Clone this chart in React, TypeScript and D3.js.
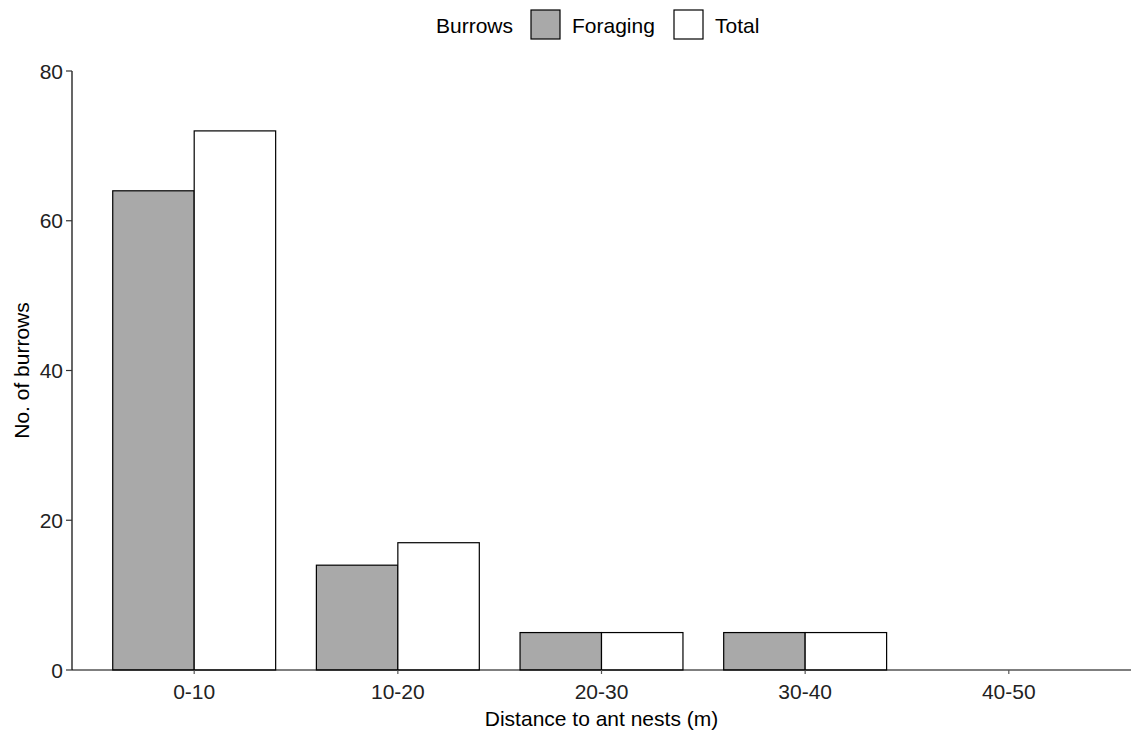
import React from 'react';
import { scaleBand, scaleLinear, scalePoint } from 'd3';

const categories = ['0-10', '10-20', '20-30', '30-40', '40-50'];
const seriesNames = ['Foraging', 'Total'];
const foraging = [64, 14, 5, 5, 0];
const total = [72, 17, 5, 5, 0];
const yTicks = [0, 20, 40, 60, 80];

const W = 1134;
const H = 733;
const margin = { left: 72, right: 3, top: 70, bottom: 63 };
const fills = { Foraging: '#A9A9A9', Total: '#FFFFFF' };
const font = '"Liberation Sans", Arial, sans-serif';

const App = () => {
  const x = scalePoint<string>()
    .domain(categories)
    .range([margin.left, W - margin.right])
    .padding(0.6);
  const step = x.step();
  const inner = scaleBand<string>()
    .domain(seriesNames)
    .range([-step * 0.4, step * 0.4]);
  const y = scaleLinear().domain([0, 80]).range([H - margin.bottom, margin.top + 1]);

  const series = [
    { name: 'Foraging', values: foraging },
    { name: 'Total', values: total },
  ];

  return (
    <svg width={W} height={H} style={styles.chart}>
      {series.map((s) =>
        categories.map((c, i) => (
          <rect
            key={s.name + c}
            x={x(c)! + inner(s.name)!}
            y={y(s.values[i])}
            width={inner.bandwidth()}
            height={y(0) - y(s.values[i])}
            fill={fills[s.name]}
            stroke='#000'
            strokeWidth={1.2}
          />
        ))
      )}

      {/* y axis */}
      <line x1={margin.left} x2={margin.left} y1={y(80)} y2={y(0)} stroke='#000' strokeWidth={1.2} />
      {yTicks.map((t) => (
        <g key={t}>
          <line x1={margin.left - 6} x2={margin.left} y1={y(t)} y2={y(t)} stroke='#333' strokeWidth={1.2} />
          <text x={margin.left - 9} y={y(t)} dy='0.36em' textAnchor='end' fontSize={21} fill='#222'>
            {t}
          </text>
        </g>
      ))}

      {/* x axis */}
      <line x1={margin.left} x2={W - margin.right} y1={y(0)} y2={y(0)} stroke='#000' strokeWidth={1.2} />
      {categories.map((c) => (
        <g key={c}>
          <line x1={x(c)} x2={x(c)} y1={y(0)} y2={y(0) + 4} stroke='#555' strokeWidth={1.2} />
          <text x={x(c)} y={y(0) + 29} textAnchor='middle' fontSize={21} fill='#222'>
            {c}
          </text>
        </g>
      ))}

      <text x={(margin.left + W - margin.right) / 2} y={726} textAnchor='middle' fontSize={21} fill='#000'>
        Distance to ant nests (m)
      </text>
      <text transform={`translate(29, ${(y(0) + y(80)) / 2}) rotate(-90)`} textAnchor='middle' fontSize={21} fill='#000'>
        No. of burrows
      </text>

      {/* legend */}
      <g>
        <text x={436} y={33} fontSize={21} fill='#000'>Burrows</text>
        <rect x={531} y={10} width={29} height={29} fill={fills.Foraging} stroke='#000' strokeWidth={1.2} />
        <text x={572} y={33} fontSize={21} fill='#000'>Foraging</text>
        <rect x={674} y={10} width={29} height={29} fill={fills.Total} stroke='#000' strokeWidth={1.2} />
        <text x={715} y={33} fontSize={21} fill='#000'>Total</text>
      </g>
    </svg>
  );
};

export default App;

const styles = {
  chart: {
    position: 'absolute' as const,
    left: 0,
    top: 0,
    background: '#fff',
    fontFamily: font,
    display: 'block',
  },
};
